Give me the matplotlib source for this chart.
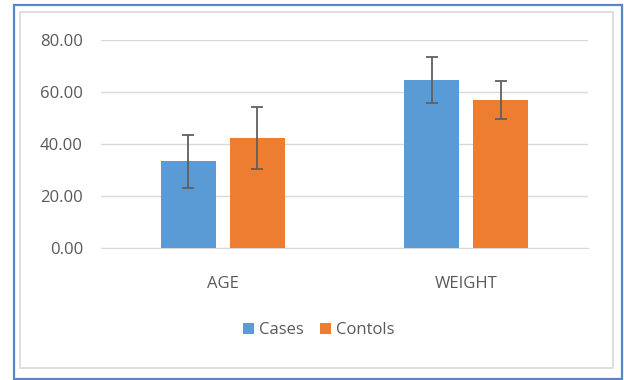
import matplotlib.pyplot as plt
import matplotlib.patches as mpatches
import numpy as np

categories = ['AGE', 'WEIGHT']
cases = [33.3, 64.5]
cases_err = [10.2, 8.8]
controls = [42.2, 57.0]
controls_err = [11.9, 7.2]
series_names = ['Cases', 'Contols']
yticks = [0, 20, 40, 60, 80]

plt.rcParams['font.family'] = ['Open Sans', 'DejaVu Sans']
txt = '#595959'

fig = plt.figure(figsize=(6.24, 3.80), dpi=100)

# outer blue frame and inner grey chart border
fig.patches.append(mpatches.Rectangle((14 / 624, 1 - 379 / 380), 608 / 624, 374 / 380,
                                      transform=fig.transFigure, fill=False,
                                      edgecolor='#5B86C5', linewidth=1.6))
fig.patches.append(mpatches.Rectangle((20 / 624, 1 - 368 / 380), 593 / 624, 356 / 380,
                                      transform=fig.transFigure, fill=False,
                                      edgecolor='#D9D9D9', linewidth=1.2))

ax = fig.add_axes([101 / 624, 1 - 248 / 380, 487 / 624, 208 / 380])
x = np.arange(len(categories))
w = 0.226
off = 0.142
ax.bar(x - off, cases, w, color='#5B9BD5', label=series_names[0], zorder=3)
ax.bar(x + off, controls, w, color='#ED7D31', label=series_names[1], zorder=3)
ax.errorbar(x - off, cases, yerr=cases_err, fmt='none', ecolor='#606060',
            elinewidth=1.3, capsize=4, capthick=1.3, zorder=4)
ax.errorbar(x + off, controls, yerr=controls_err, fmt='none', ecolor='#606060',
            elinewidth=1.3, capsize=4, capthick=1.3, zorder=4)

ax.set_xlim(-0.5, 1.5)
ax.set_ylim(0, 80)
ax.set_yticks(yticks)
ax.set_yticklabels(['%.2f' % v for v in yticks])
ax.set_xticks(x)
ax.set_xticklabels(categories)
ax.tick_params(axis='both', length=0, colors=txt, labelsize=12)
ax.tick_params(axis='y', pad=13)
ax.tick_params(axis='x', pad=20)
ax.grid(axis='y', color='#D9D9D9', linewidth=1, zorder=0)
for s in ['top', 'right', 'left']:
    ax.spines[s].set_visible(False)
ax.spines['bottom'].set_color('#D9D9D9')

leg = fig.legend(loc='center', bbox_to_anchor=(319 / 624, 1 - 330 / 380), ncol=2,
                 frameon=False, fontsize=12, handlelength=0.65, handleheight=0.65,
                 handletextpad=0.3, columnspacing=1.0)
for t in leg.get_texts():
    t.set_color(txt)

fig.savefig('out.png', dpi=100)
